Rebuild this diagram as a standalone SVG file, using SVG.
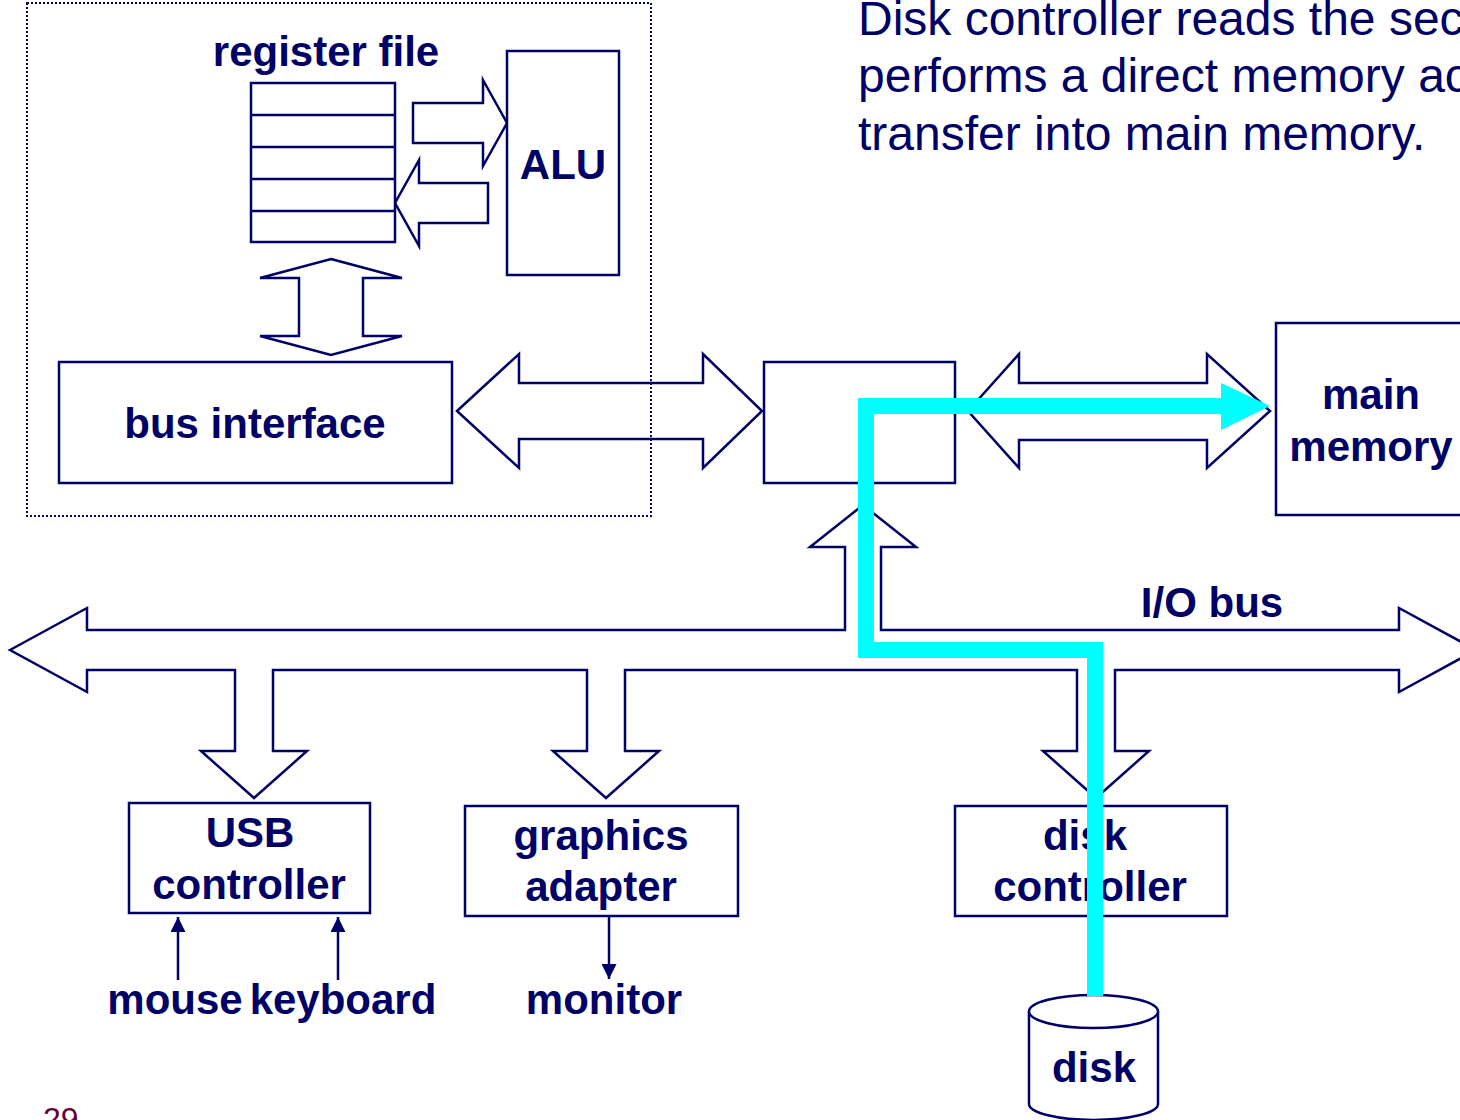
<svg xmlns="http://www.w3.org/2000/svg" width="1460" height="1120" viewBox="0 0 1460 1120">
<defs>
<style>
.ln{fill:none;stroke:#000066;stroke-width:2.5}
.bx{fill:#ffffff;stroke:#000066;stroke-width:2.5}
.ba{fill:#ffffff;stroke:#000066;stroke-width:2.5;stroke-linejoin:miter}
.lb{font-family:"Liberation Sans",Arial,Helvetica,sans-serif;font-weight:bold;font-size:42px;fill:#000066;text-anchor:middle}
.tx{font-family:"Liberation Sans",Arial,Helvetica,sans-serif;font-size:48px;fill:#000066}
.pg{font-family:"Liberation Sans",Arial,Helvetica,sans-serif;font-size:32px;fill:#660033}
.pt{fill:none;stroke:#000066;stroke-width:2.5}
.cy{fill:none;stroke:#00ffff;stroke-width:16;stroke-linejoin:miter;stroke-linecap:butt}
</style>
<marker id="ah" viewBox="0 0 10 10" refX="10" refY="5" markerWidth="6" markerHeight="6" markerUnits="userSpaceOnUse" orient="auto">
<path d="M0,0 L10,5 L0,10 z" fill="#000066"/>
</marker>
<marker id="ahs" viewBox="0 0 10 10" refX="10" refY="5" markerWidth="15" markerHeight="15" markerUnits="userSpaceOnUse" orient="auto">
<path d="M0,0 L10,5 L0,10 z" fill="#000066"/>
</marker>
</defs>

<g id="description">
<text class="tx" x="858" y="35">Disk controller reads the sec</text>
<text class="tx" x="858" y="92">performs a direct memory ac</text>
<text class="tx" x="858" y="150">transfer into main memory.</text>
</g>

<g id="connectors">
<polygon class="ba" points="413,103 483,103 483,80 507,123 483,166 483,143 413,143"/>
<polygon class="ba" points="488,183 419,183 419,160 395,203 419,246 419,223 488,223"/>
<polygon class="ba" points="331,259 402,278 363,278 363,336 402,336 331,355 260,336 299,336 299,278 260,278"/>
<polygon class="ba" points="457,411 519,354 519,383 703,383 703,354 762,411 703,468 703,439 519,439 519,468"/>
<polygon class="ba" points="968,411 1019,354 1019,383 1207,383 1207,354 1270,411 1207,468 1207,440 1019,440 1019,468"/>
<polygon id="io-bus" class="ba" points="10,650 87,608 87,630 845,630 845,547 810,547 863,505 916,547 881,547 881,630 1399,630 1399,608 1476,650 1399,692 1399,670 1115,670 1115,751 1149,751 1096,798 1043,751 1077,751 1077,670 625,670 625,751 659,751 606,798 553,751 587,751 587,670 273,670 273,751 307,751 254,798 201,751 235,751 235,670 87,670 87,692"/>
<line class="pt" x1="178" y1="980" x2="178" y2="917" marker-end="url(#ahs)"/>
<line class="pt" x1="338" y1="980" x2="338" y2="917" marker-end="url(#ahs)"/>
<line class="pt" x1="609" y1="916" x2="609" y2="979" marker-end="url(#ahs)"/>
</g>

<g id="cpu">
<rect x="27" y="3" width="624" height="513" fill="none" stroke="#000066" stroke-width="2" stroke-dasharray="2,2"/>
</g>

<g id="register-file">
<text class="lb" x="326" y="66">register file</text>
<rect class="bx" x="251" y="83" width="144" height="159"/>
<line class="ln" x1="251" y1="115" x2="395" y2="115"/>
<line class="ln" x1="251" y1="147" x2="395" y2="147"/>
<line class="ln" x1="251" y1="179" x2="395" y2="179"/>
<line class="ln" x1="251" y1="211" x2="395" y2="211"/>
</g>

<g id="alu">
<rect class="bx" x="507" y="51" width="112" height="224"/>
<text class="lb" x="563" y="179">ALU</text>
</g>

<g id="bus-interface">
<rect class="bx" x="59" y="362" width="393" height="121"/>
<text class="lb" x="255" y="438">bus interface</text>
</g>

<g id="io-bridge">
<rect class="bx" x="764" y="362" width="191" height="121"/>
</g>

<g id="main-memory">
<rect class="bx" x="1276" y="323" width="200" height="192"/>
<text class="lb" x="1371" y="409">main</text>
<text class="lb" x="1371" y="461">memory</text>
</g>

<g id="io-bus-label">
<text class="lb" x="1212" y="617">I/O bus</text>
</g>

<g id="usb-controller">
<rect class="bx" x="129" y="803" width="241" height="110"/>
<text class="lb" x="250" y="847">USB</text>
<text class="lb" x="249" y="899">controller</text>
</g>

<g id="graphics-adapter">
<rect class="bx" x="465" y="806" width="273" height="110"/>
<text class="lb" x="601" y="850">graphics</text>
<text class="lb" x="601" y="901">adapter</text>
</g>

<g id="disk-controller">
<rect class="bx" x="955" y="806" width="272" height="110"/>
<text class="lb" x="1085" y="850">disk</text>
<text class="lb" x="1090" y="901">controller</text>
</g>

<g id="mouse"><text class="lb" x="175" y="1014">mouse</text></g>
<g id="keyboard"><text class="lb" x="343" y="1014">keyboard</text></g>
<g id="monitor"><text class="lb" x="604" y="1014">monitor</text></g>

<g id="disk">
<path class="bx" d="M1029,1011 L1029,1104 A64.5,16 0 0 0 1158,1104 L1158,1011"/>
<ellipse class="bx" cx="1093.5" cy="1011.5" rx="64.5" ry="16.5"/>
<text class="lb" x="1094" y="1082">disk</text>
</g>

<g id="dma-path">
<polyline class="cy" points="1095,996 1095,650 866,650 866,406 1222,406"/>
<polygon points="1221,383 1270,406 1221,430" fill="#00ffff"/>
</g>

<g id="page-number">
<text class="pg" x="43" y="1130">29</text>
</g>
</svg>
